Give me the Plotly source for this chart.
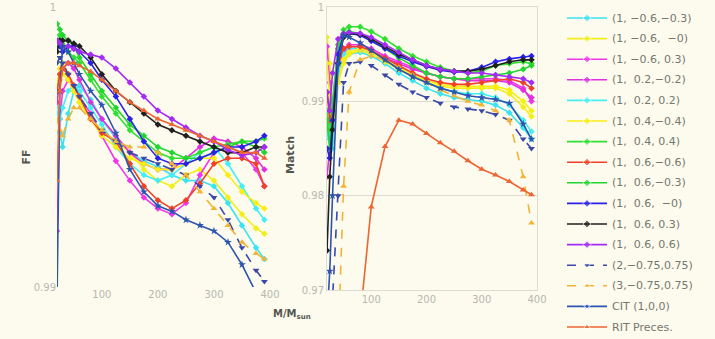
import plotly.graph_objects as go

masses = [20, 25, 30, 40, 50, 60, 80, 100, 125, 150, 175, 200, 225, 250, 275, 300, 325, 350, 375, 390]

labels = ["(1, \u22120.6,\u22120.3)", "(1, \u22120.6,  \u22120)", "(1, \u22120.6, 0.3)", "(1,  0.2,\u22120.2)",
          "(1,  0.2, 0.2)", "(1,  0.4,\u22120.4)", "(1,  0.4, 0.4)", "(1,  0.6,\u22120.6)",
          "(1,  0.6,\u22120.3)", "(1,  0.6,  \u22120)", "(1,  0.6, 0.3)", "(1,  0.6, 0.6)",
          "(2,\u22120.75,0.75)", "(3,\u22120.75,0.75)", "CIT (1,0,0)", "RIT Preces."]

ff_1 = [0.9970, 0.9955, 0.9950, 0.9962, 0.9970, 0.9972, 0.9967, 0.9960, 0.9953, 0.9948, 0.9945, 0.9943, 0.9940, 0.9938, 0.9938, 0.9936, 0.9930, 0.9922, 0.9914, 0.9910]
ff_2 = [0.9972, 0.9978, 0.9980, 0.9976, 0.9970, 0.9966, 0.9960, 0.9956, 0.9952, 0.9948, 0.9942, 0.9938, 0.9936, 0.9940, 0.9942, 0.9938, 0.9932, 0.9926, 0.9921, 0.9919]
ff_3 = [0.9920, 0.9960, 0.9970, 0.9974, 0.9972, 0.9968, 0.9962, 0.9954, 0.9945, 0.9938, 0.9932, 0.9928, 0.9926, 0.9930, 0.9940, 0.9948, 0.9950, 0.9948, 0.9942, 0.9936]
ff_4 = [0.9966, 0.9974, 0.9978, 0.9980, 0.9978, 0.9974, 0.9966, 0.9960, 0.9954, 0.9948, 0.9944, 0.9942, 0.9942, 0.9946, 0.9950, 0.9953, 0.9952, 0.9950, 0.9946, 0.9942]
ff_5 = [0.9962, 0.9960, 0.9964, 0.9970, 0.9972, 0.9970, 0.9964, 0.9958, 0.9950, 0.9944, 0.9940, 0.9938, 0.9940, 0.9944, 0.9948, 0.9950, 0.9944, 0.9936, 0.9928, 0.9924]
ff_6 = [0.9970, 0.9974, 0.9976, 0.9974, 0.9970, 0.9966, 0.9960, 0.9954, 0.9950, 0.9946, 0.9944, 0.9942, 0.9942, 0.9944, 0.9946, 0.9946, 0.9940, 0.9934, 0.9930, 0.9928]
ff_7 = [0.9986, 0.9990, 0.9988, 0.9984, 0.9982, 0.9980, 0.9974, 0.9968, 0.9962, 0.9956, 0.9952, 0.9948, 0.9946, 0.9946, 0.9948, 0.9950, 0.9951, 0.9952, 0.9952, 0.9953]
ff_8 = [0.9970, 0.9976, 0.9978, 0.9976, 0.9972, 0.9968, 0.9960, 0.9955, 0.9952, 0.9944, 0.9936, 0.9931, 0.9928, 0.9931, 0.9937, 0.9944, 0.9946, 0.9946, 0.9944, 0.9936]
ff_9 = [0.9994, 0.9992, 0.9990, 0.9988, 0.9986, 0.9982, 0.9976, 0.9970, 0.9964, 0.9958, 0.9954, 0.9950, 0.9948, 0.9946, 0.9946, 0.9948, 0.9950, 0.9952, 0.9950, 0.9948]
ff_10 = [0.9988, 0.9986, 0.9984, 0.9986, 0.9986, 0.9984, 0.9980, 0.9974, 0.9968, 0.9960, 0.9952, 0.9946, 0.9944, 0.9944, 0.9946, 0.9948, 0.9950, 0.9950, 0.9952, 0.9954]
ff_11 = [0.9984, 0.9988, 0.9988, 0.9988, 0.9987, 0.9986, 0.9982, 0.9976, 0.9970, 0.9966, 0.9962, 0.9958, 0.9956, 0.9954, 0.9952, 0.9950, 0.9948, 0.9948, 0.9950, 0.9950]
ff_12 = [0.9988, 0.9987, 0.9986, 0.9986, 0.9985, 0.9984, 0.9983, 0.9982, 0.9978, 0.9973, 0.9968, 0.9963, 0.9960, 0.9957, 0.9954, 0.9952, 0.9949, 0.9947, 0.9948, 0.9950]
ff_13 = [0.9980, 0.9982, 0.9980, 0.9976, 0.9972, 0.9968, 0.9962, 0.9956, 0.9952, 0.9948, 0.9946, 0.9944, 0.9942, 0.9940, 0.9936, 0.9932, 0.9924, 0.9914, 0.9906, 0.9902]
ff_14 = [0.9960, 0.9956, 0.9954, 0.9960, 0.9964, 0.9964, 0.9960, 0.9956, 0.9952, 0.9950, 0.9950, 0.9948, 0.9944, 0.9940, 0.9934, 0.9928, 0.9922, 0.9916, 0.9912, 0.9910]
ff_15 = [0.9895, 0.9970, 0.9986, 0.9984, 0.9980, 0.9976, 0.9970, 0.9965, 0.9955, 0.9942, 0.9934, 0.9929, 0.9927, 0.9924, 0.9922, 0.9920, 0.9916, 0.9908, 0.9898, 0.9890]
ff_16 = [0.9938, 0.9970, 0.9978, 0.9980, 0.9980, 0.9979, 0.9977, 0.9974, 0.9970, 0.9966, 0.9963, 0.9960, 0.9958, 0.9956, 0.9954, 0.9952, 0.9950, 0.9948, 0.9948, 0.9946]

m_1 = [0.9890, 0.9860, 0.9850, 0.9920, 0.9944, 0.9950, 0.9952, 0.9948, 0.9940, 0.9930, 0.9922, 0.9914, 0.9908, 0.9904, 0.9902, 0.9900, 0.9896, 0.9888, 0.9872, 0.9860]
m_2 = [0.9968, 0.9940, 0.9890, 0.9920, 0.9940, 0.9950, 0.9954, 0.9950, 0.9942, 0.9934, 0.9926, 0.9920, 0.9916, 0.9914, 0.9914, 0.9914, 0.9914, 0.9908, 0.9894, 0.9884]
m_3 = [0.9958, 0.9920, 0.9880, 0.9930, 0.9956, 0.9960, 0.9960, 0.9956, 0.9948, 0.9942, 0.9936, 0.9930, 0.9926, 0.9924, 0.9924, 0.9924, 0.9924, 0.9922, 0.9914, 0.9900]
m_4 = [0.9820, 0.9850, 0.9890, 0.9940, 0.9952, 0.9956, 0.9956, 0.9952, 0.9946, 0.9940, 0.9934, 0.9930, 0.9926, 0.9924, 0.9922, 0.9922, 0.9922, 0.9920, 0.9912, 0.9904]
m_5 = [0.9870, 0.9850, 0.9860, 0.9930, 0.9950, 0.9956, 0.9956, 0.9952, 0.9944, 0.9936, 0.9928, 0.9920, 0.9914, 0.9910, 0.9908, 0.9908, 0.9904, 0.9896, 0.9880, 0.9868]
m_6 = [0.9940, 0.9900, 0.9870, 0.9920, 0.9944, 0.9952, 0.9956, 0.9952, 0.9944, 0.9936, 0.9928, 0.9922, 0.9918, 0.9916, 0.9916, 0.9916, 0.9916, 0.9912, 0.9900, 0.9890]
m_7 = [0.9890, 0.9870, 0.9900, 0.9960, 0.9976, 0.9979, 0.9979, 0.9974, 0.9966, 0.9956, 0.9948, 0.9942, 0.9936, 0.9932, 0.9930, 0.9932, 0.9938, 0.9940, 0.9942, 0.9940]
m_8 = [0.9909, 0.9880, 0.9890, 0.9940, 0.9956, 0.9958, 0.9958, 0.9954, 0.9946, 0.9938, 0.9930, 0.9924, 0.9920, 0.9918, 0.9918, 0.9920, 0.9922, 0.9924, 0.9920, 0.9914]
m_9 = [0.9880, 0.9850, 0.9890, 0.9956, 0.9972, 0.9974, 0.9972, 0.9966, 0.9956, 0.9946, 0.9938, 0.9930, 0.9926, 0.9924, 0.9924, 0.9926, 0.9928, 0.9930, 0.9934, 0.9938]
m_10 = [0.9850, 0.9840, 0.9880, 0.9950, 0.9970, 0.9972, 0.9970, 0.9964, 0.9956, 0.9948, 0.9942, 0.9937, 0.9933, 0.9931, 0.9932, 0.9936, 0.9942, 0.9945, 0.9947, 0.9948]
m_11 = [0.9742, 0.9820, 0.9870, 0.9940, 0.9968, 0.9972, 0.9971, 0.9966, 0.9958, 0.9950, 0.9944, 0.9938, 0.9934, 0.9932, 0.9932, 0.9934, 0.9938, 0.9942, 0.9944, 0.9944]
m_12 = [0.9910, 0.9890, 0.9930, 0.9966, 0.9972, 0.9973, 0.9972, 0.9968, 0.9960, 0.9952, 0.9944, 0.9938, 0.9934, 0.9932, 0.9930, 0.9930, 0.9928, 0.9926, 0.9924, 0.9920]
m_13 = [0.9660, 0.9670, 0.9690, 0.9800, 0.9920, 0.9940, 0.9942, 0.9938, 0.9928, 0.9918, 0.9910, 0.9904, 0.9898, 0.9894, 0.9892, 0.9890, 0.9886, 0.9880, 0.9860, 0.9850]
m_14 = [None, None, None, 0.9640, 0.9810, 0.9910, 0.9944, 0.9948, 0.9944, 0.9936, 0.9928, 0.9920, 0.9912, 0.9906, 0.9900, 0.9896, 0.9890, 0.9880, 0.9820, 0.9771]
m_15 = [0.9670, 0.9720, 0.9800, 0.9940, 0.9970, 0.9968, 0.9962, 0.9954, 0.9944, 0.9934, 0.9926, 0.9920, 0.9914, 0.9910, 0.9906, 0.9904, 0.9902, 0.9898, 0.9876, 0.9860]
m_16 = [None, None, None, None, None, None, 0.9670, 0.9788, 0.9852, 0.9880, 0.9876, 0.9866, 0.9856, 0.9847, 0.9837, 0.9828, 0.9822, 0.9815, 0.9806, 0.9801]

ff_all = [ff_1, ff_2, ff_3, ff_4, ff_5, ff_6, ff_7, ff_8, ff_9, ff_10, ff_11, ff_12, ff_13, ff_14, ff_15, ff_16]
m_all = [m_1, m_2, m_3, m_4, m_5, m_6, m_7, m_8, m_9, m_10, m_11, m_12, m_13, m_14, m_15, m_16]

colors = ["#38e4f0", "#f2ee1a", "#f035ea", "#e02ee0", "#44eef2", "#f8ee10", "#30e030", "#f04028",
          "#22d630", "#2a22e8", "#202020", "#a42cf4", "#3a48a8", "#f2b434", "#2c54b0", "#ee6432"]
symbols = ["diamond"] * 12 + ["triangle-down", "triangle-up", "star", "triangle-up"]
dashes = ["solid"] * 12 + ["dash", "dash", "solid", "solid"]

fig = go.Figure()
for i in range(16):
    for panel, vals in (("1", ff_all[i]), ("2", m_all[i])):
        fig.add_trace(go.Scatter(
            x=masses, y=vals, name=labels[i], mode="lines+markers",
            xaxis="x" if panel == "1" else "x2", yaxis="y" if panel == "1" else "y2",
            line=dict(color=colors[i], width=1.6, dash=dashes[i]),
            marker=dict(color=colors[i], symbol=symbols[i], size=6 if i >= 12 else 5),
            showlegend=False,
        ))

W, H = 715, 339
LEG_X0 = 555
# legend key: drawn on a pixel-unit helper axis (no data values)
for i in range(16):
    yc = 18 + 20.6 * i
    fig.add_trace(go.Scatter(
        x=[12, 32, 52], y=[yc, yc, yc], mode="lines+markers", xaxis="x3", yaxis="y3",
        line=dict(color=colors[i], width=1.6, dash=dashes[i]),
        marker=dict(color=colors[i], symbol=symbols[i], size=[0, 6, 0]),
        showlegend=False, hoverinfo="skip",
    ))
    fig.add_annotation(text=labels[i], x=55, y=yc, xref="x3", yref="y3", xanchor="left",
                       yanchor="middle", showarrow=False,
                       font=dict(family="DejaVu Sans", size=11, color="#77776f"))

bg = "#fcfbee"
tickfont = dict(family="DejaVu Sans", size=10, color="#b8b8b0")
grid = "#dedcd0"

fig.update_layout(
    width=W, height=H, margin=dict(l=0, r=0, t=0, b=0, pad=0, autoexpand=False),
    paper_bgcolor=bg, plot_bgcolor=bg, showlegend=False,
    font=dict(family="DejaVu Sans"),
    xaxis=dict(domain=[57 / W, 270 / W], range=[20, 400], tickvals=[100, 200, 300, 400],
               tickfont=tickfont, showgrid=False, zeroline=False, showline=False, anchor="y",
               automargin=False),
    yaxis=dict(domain=[1 - 287 / H, 1 - 7 / H], range=[0.99, 1], tickvals=[0.99, 1],
               ticktext=["0.99", "1"], tickfont=tickfont, gridcolor=grid, zeroline=False,
               showline=False, anchor="x", automargin=False),
    xaxis2=dict(domain=[327 / W, 537 / W], range=[20, 400], tickvals=[100, 200, 300, 400],
                tickfont=tickfont, showgrid=False, zeroline=False, showline=True,
                linecolor=grid, mirror=True, anchor="y2", automargin=False),
    yaxis2=dict(domain=[1 - 290 / H, 1 - 7 / H], range=[0.97, 1], tickvals=[0.97, 0.98, 0.99, 1],
                ticktext=["0.97", "0.98", "0.99", "1"], tickfont=tickfont, gridcolor=grid,
                zeroline=False, showline=True, linecolor=grid, mirror=True, anchor="x2",
                automargin=False),
    xaxis3=dict(domain=[LEG_X0 / W, 1], range=[0, W - LEG_X0], visible=False, fixedrange=True,
                automargin=False),
    yaxis3=dict(domain=[0, 1], range=[H, 0], visible=False, fixedrange=True, anchor="x3",
                automargin=False),
)

fig.add_annotation(text="<b>FF</b>", x=17 / W, y=1 - 157 / H, xref="paper", yref="paper",
                   textangle=-90, showarrow=False, font=dict(size=11, color="#55554f"))
fig.add_annotation(text="<b>Match</b>", x=290 / W, y=1 - 155 / H, xref="paper", yref="paper",
                   textangle=-90, showarrow=False, font=dict(size=11, color="#55554f"))
fig.add_annotation(text="<b>M/M<sub>sun</sub></b>", x=292 / W, y=1 - 323 / H, xref="paper", yref="paper",
                   showarrow=False, font=dict(size=10, color="#55554f"))

fig.write_html("out.html", config={"displayModeBar": False},
               post_script="document.body.style.margin='0';")
